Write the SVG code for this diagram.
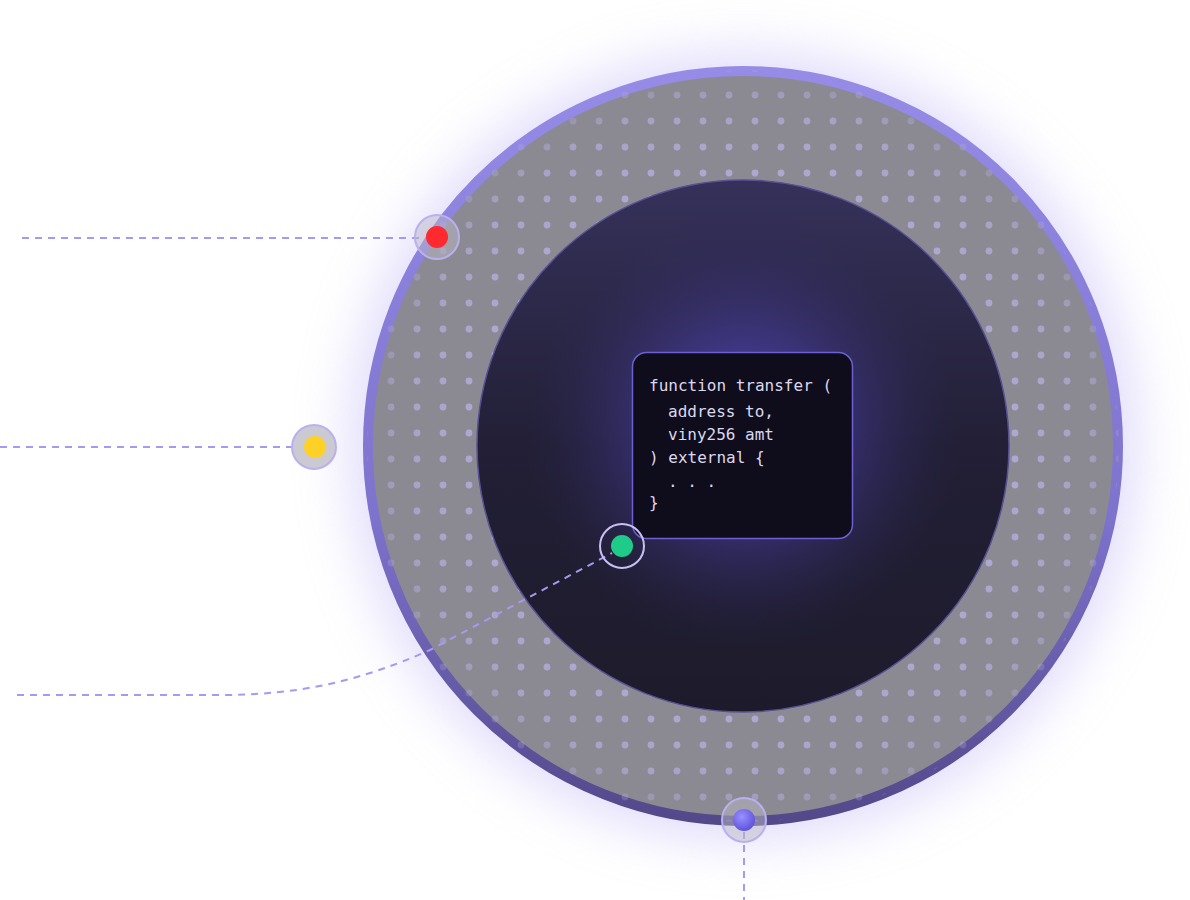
<svg xmlns="http://www.w3.org/2000/svg" width="1190" height="900" viewBox="0 0 1190 900">
<style>
.dash{fill:none;stroke:#a898f2;stroke-width:2;stroke-dasharray:7 6}
.halo{fill:rgba(185,183,198,0.5);stroke:#b9b0ee;stroke-width:2}
.code{font-family:"DejaVu Sans Mono","Liberation Mono",monospace;font-size:16px;fill:#dcd8f0}
</style>
<defs>
<filter id="blur" x="-30%" y="-30%" width="160%" height="160%"><feGaussianBlur stdDeviation="26"/></filter>
<linearGradient id="ringStroke" x1="0" y1="0" x2="0" y2="1">
<stop offset="0" stop-color="#968be6"/><stop offset="0.6" stop-color="#7d72cc"/><stop offset="1" stop-color="#534889"/>
</linearGradient>
<linearGradient id="innerLin" x1="0" y1="0" x2="0" y2="1">
<stop offset="0" stop-color="#35315a"/><stop offset="0.5" stop-color="#221f36"/><stop offset="1" stop-color="#1d1b2b"/>
</linearGradient>
<radialGradient id="innerGlow" cx="743" cy="430" r="220" gradientUnits="userSpaceOnUse">
<stop offset="0" stop-color="#5a4ec8" stop-opacity="0.95"/><stop offset="0.45" stop-color="#4a3fa8" stop-opacity="0.5"/><stop offset="1" stop-color="#2a2550" stop-opacity="0"/>
</radialGradient>
<radialGradient id="dotFade" cx="743" cy="446" r="378" gradientUnits="userSpaceOnUse">
<stop offset="0.7" stop-color="#fff" stop-opacity="1"/><stop offset="0.9" stop-color="#fff" stop-opacity="0.8"/><stop offset="1" stop-color="#fff" stop-opacity="0.25"/>
</radialGradient>
<mask id="dotMask"><circle cx="743" cy="446" r="376" fill="url(#dotFade)"/></mask>
<pattern id="dots" x="-12" y="4" width="26" height="26" patternUnits="userSpaceOnUse">
<circle cx="13" cy="13" r="3.4" fill="#b6b0e2" fill-opacity="0.8"/>
</pattern>
<radialGradient id="purpleBall" cx="0.4" cy="0.35" r="0.7">
<stop offset="0" stop-color="#9a90ff"/><stop offset="1" stop-color="#5a4fd8"/>
</radialGradient>
</defs>
<rect width="1190" height="900" fill="#ffffff"/>
<g id="main-circle">
<circle cx="743" cy="446" r="395" fill="#cdc6f8" filter="url(#blur)" opacity="0.6"/>
<circle cx="743" cy="446" r="375" fill="#8b8a93" stroke="url(#ringStroke)" stroke-width="10"/>
<rect x="363" y="66" width="760" height="760" fill="url(#dots)" mask="url(#dotMask)"/>
<circle cx="743" cy="446" r="266" fill="url(#innerLin)" stroke="#575095" stroke-width="1.5"/>
<circle cx="743" cy="446" r="265" fill="url(#innerGlow)"/>
</g>
<g id="connectors">
<path class="dash" d="M22 238 H423"/>
<path class="dash" d="M0 447 H305"/>
<path class="dash" d="M17 695 H220 C300 695 360 681 430 650 L612 553"/>
<path class="dash" d="M744 832 V900"/>
</g>
<g id="code-box">
<rect x="632.5" y="352.5" width="220" height="186" rx="14" fill="#0f0d1b" stroke="#6c60d2" stroke-width="1.5"/>
<text class="code" x="649" y="391">function transfer (</text>
<text class="code" x="668" y="417">address to,</text>
<text class="code" x="668" y="440">viny256 amt</text>
<text class="code" x="649" y="463">) external {</text>
<text class="code" x="668" y="487">. . .</text>
<text class="code" x="649" y="508">}</text>
</g>
<g id="node-red">
<circle class="halo" cx="437" cy="237" r="22"/>
<circle cx="437" cy="237" r="11" fill="#ff2a30"/>
</g>
<g id="node-yellow">
<circle class="halo" cx="314" cy="447" r="22" style="fill:#cbc9d2"/>
<circle cx="315" cy="447" r="11" fill="#ffd126"/>
</g>
<g id="node-green">
<circle cx="622" cy="546" r="22" fill="none" stroke="#c8c0f2" stroke-width="2"/>
<circle cx="622" cy="546" r="11" fill="#1fcb88"/>
</g>
<g id="node-bottom">
<circle class="halo" cx="744" cy="820" r="22"/>
<circle cx="744" cy="820" r="11" fill="url(#purpleBall)"/>
</g>
</svg>
